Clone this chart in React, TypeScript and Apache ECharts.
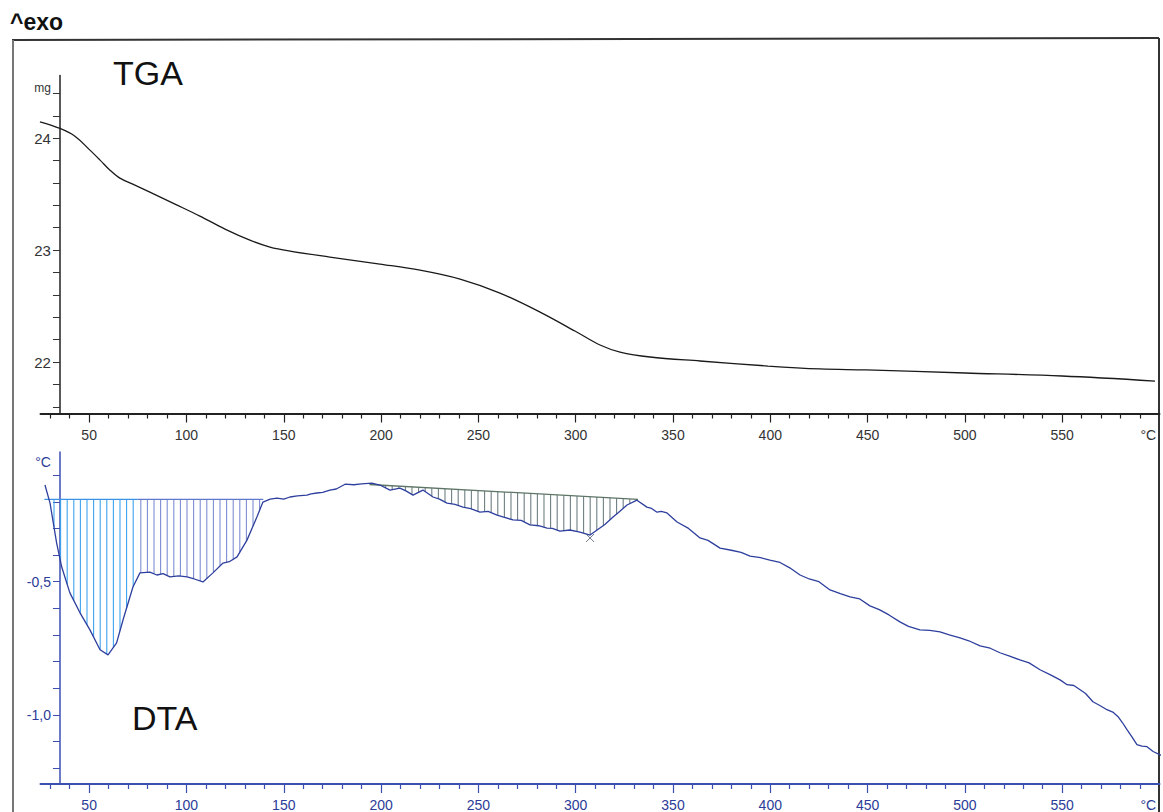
import React, { useEffect, useRef } from "react";
import * as echarts from "echarts";

// ---------- data ----------
const tgaTemp = [24.7, 35, 42.7, 50.4, 55.6, 60.7, 65.8, 73.5, 81.2, 94.1, 106.9, 119.8, 132.6, 142.9, 153.2, 173.7, 199.4, 220, 240.6, 261.1, 281.7, 299.6, 312.5, 322.8, 338.2, 363.9, 398.8, 425.5, 449.2, 500.1, 549.9, 597.7];
const tgaMass = [24.146, 24.087, 24.018, 23.893, 23.804, 23.714, 23.643, 23.58, 23.518, 23.411, 23.304, 23.188, 23.089, 23.027, 22.991, 22.938, 22.875, 22.821, 22.741, 22.616, 22.446, 22.277, 22.152, 22.089, 22.045, 22.009, 21.964, 21.938, 21.929, 21.902, 21.875, 21.83];

const dtaTemp = [27.3, 29.9, 33.3, 35.9, 40.1, 45.3, 50.4, 55.6, 59.7, 64.1, 67.4, 72.5, 76.1, 81.2, 84.8, 88, 91.5, 96, 100.3, 104, 108.5, 113.6, 118.8, 122, 126, 131.1, 136.2, 139.3, 143, 146.5, 150, 153.2, 157, 161.9, 164, 167.1, 170, 173.7, 177, 181.5, 186, 190, 195.3, 199.4, 204.6, 209.7, 213, 216.4, 221.5, 226.7, 230, 233.9, 238, 242.1, 246, 250.8, 255, 259.6, 263, 267.8, 272, 276.5, 281, 285.3, 288, 291.9, 297, 302.2, 307.4, 311, 315, 319.2, 322, 326.4, 331.5, 336.6, 339, 341.8, 344, 346.9, 352.1, 358, 363.9, 368, 374.2, 380, 385, 389.6, 395, 399.8, 405, 410, 415.3, 420, 425, 430.7, 436, 441, 446, 451.2, 456, 461, 466.6, 471, 476.9, 482, 487.2, 492, 497.5, 502, 507.8, 513, 518, 523, 528.3, 533, 538.6, 544, 548.9, 552.5, 556, 559.2, 562, 565.8, 570, 573, 576, 578.7, 581, 583.3, 586, 588.4, 591, 593.6, 596.7, 601];
const dtaVal = [-0.137, -0.205, -0.355, -0.445, -0.542, -0.617, -0.681, -0.756, -0.775, -0.73, -0.644, -0.52, -0.467, -0.464, -0.475, -0.47, -0.482, -0.478, -0.482, -0.49, -0.501, -0.467, -0.43, -0.425, -0.407, -0.344, -0.257, -0.201, -0.19, -0.186, -0.19, -0.182, -0.178, -0.175, -0.17, -0.167, -0.165, -0.156, -0.152, -0.134, -0.136, -0.133, -0.13, -0.137, -0.156, -0.149, -0.16, -0.175, -0.156, -0.182, -0.19, -0.205, -0.21, -0.22, -0.226, -0.239, -0.236, -0.25, -0.258, -0.268, -0.27, -0.287, -0.29, -0.299, -0.3, -0.31, -0.306, -0.314, -0.325, -0.306, -0.285, -0.257, -0.24, -0.212, -0.194, -0.22, -0.225, -0.239, -0.236, -0.242, -0.276, -0.3, -0.336, -0.345, -0.374, -0.382, -0.39, -0.404, -0.41, -0.419, -0.428, -0.448, -0.475, -0.49, -0.5, -0.531, -0.545, -0.557, -0.565, -0.591, -0.605, -0.625, -0.651, -0.668, -0.681, -0.683, -0.689, -0.7, -0.711, -0.722, -0.741, -0.75, -0.767, -0.78, -0.794, -0.805, -0.831, -0.85, -0.869, -0.887, -0.89, -0.906, -0.92, -0.951, -0.968, -0.981, -0.99, -1.007, -1.03, -1.056, -1.085, -1.112, -1.118, -1.12, -1.138, -1.153];

// integrated peak regions: start °C, end °C, baseline at start, baseline at end
const peakStart = [27, 75, 194];
const peakEnd = [75, 139.5, 332];
const peakBaseStart = [-0.191, -0.191, -0.135];
const peakBaseEnd = [-0.191, -0.191, -0.191];

const markerTemp = [307.4];
const markerVal = [-0.336];

// axis ticks / labels
const xMajorTicks = [50, 100, 150, 200, 250, 300, 350, 400, 450, 500, 550];
const xMinorTicks = [30, 40, 60, 70, 80, 90, 110, 120, 130, 140, 160, 170, 180, 190, 210, 220, 230, 240, 260, 270, 280, 290, 310, 320, 330, 340, 360, 370, 380, 390, 410, 420, 430, 440, 460, 470, 480, 490, 510, 520, 530, 540, 560, 570, 580, 590];
const tgaYTicks = [21.6, 21.8, 22, 22.2, 22.4, 22.6, 22.8, 23, 23.2, 23.4, 23.6, 23.8, 24, 24.2, 24.4];
const tgaYLabels = [22, 23, 24, 24.4];
const dtaYTicks = [-1.2, -1.1, -1.0, -0.9, -0.8, -0.7, -0.6, -0.5, -0.4, -0.3, -0.2, -0.1];
const dtaYLabels = [-1.0, -0.5, -0.05];

// ---------- layout ----------
const X_MIN = 25;
const X_MAX = 600;
const Y_AXIS_AT = 35;
const GRID_LEFT = 40.5;
const GRID_WIDTH = 1119;
const PX_PER_C = GRID_WIDTH / (X_MAX - X_MIN);
const Y_OFFSET = -(Y_AXIS_AT - X_MIN) * PX_PER_C;

const FONT = "Liberation Sans, Arial, sans-serif";
const BLACK = "#1a1a1a";
const BLUE_AXIS = "#3c4fb0";
const BLUE_TEXT = "#2c3c98";
const BLUE_LINE = "#2e3f9e";

function xAxes(gridIndex: number, color: string, textColor: string) {
  return [
    {
      type: "value",
      gridIndex,
      position: "bottom",
      min: X_MIN,
      max: X_MAX,
      axisLine: { show: true, onZero: false, lineStyle: { color, width: 2 } },
      axisTick: { show: true, length: 9, customValues: xMajorTicks, lineStyle: { color, width: 1.2 } },
      axisLabel: { show: true, customValues: xMajorTicks, color: textColor, fontSize: 14, margin: 14, fontFamily: FONT },
      splitLine: { show: false },
      name: "°C",
      nameLocation: "end",
      nameGap: -19,
      nameTextStyle: { color: textColor, fontSize: 14, fontFamily: FONT, verticalAlign: "top", padding: [14, 0, 0, 0] },
    },
    {
      type: "value",
      gridIndex,
      position: "bottom",
      min: X_MIN,
      max: X_MAX,
      axisLine: { show: false, onZero: false },
      axisTick: { show: true, length: 5, customValues: xMinorTicks, lineStyle: { color, width: 1.2 } },
      axisLabel: { show: false },
      splitLine: { show: false },
    },
  ];
}

export default function App() {
  const ref = useRef<HTMLDivElement>(null);

  useEffect(() => {
    if (!ref.current) return;
    const chart = echarts.init(ref.current, null, { renderer: "svg" });

    const hatchColors = ["#3ea3ef", "#7d8dd2", "#6e7f84"];
    const baseColors = ["#3a93e6", "#5f78cc", "#5d7566"];

    const option: any = {
      animation: false,
      backgroundColor: "#ffffff",
      grid: [
        { left: GRID_LEFT, width: GRID_WIDTH, top: 75.5, height: 338 },
        { left: GRID_LEFT, width: GRID_WIDTH, top: 452, height: 332 },
      ],
      xAxis: [...xAxes(0, "#222222", "#333333"), ...xAxes(1, BLUE_AXIS, BLUE_TEXT)],
      yAxis: [
        {
          type: "value",
          gridIndex: 0,
          min: 21.54,
          max: 24.56,
          offset: Y_OFFSET,
          axisLine: { show: true, onZero: false, lineStyle: { color: "#222222", width: 1.5 } },
          axisTick: { show: true, length: 7, customValues: tgaYTicks, lineStyle: { color: "#333333" } },
          axisLabel: {
            show: true,
            customValues: tgaYLabels,
            color: "#333333",
            fontSize: 15,
            fontFamily: FONT,
            margin: 9,
            formatter: (v: number) => (Math.abs(v - 24.4) < 1e-6 ? "{u|mg}" : String(v)),
            rich: { u: { fontSize: 12, color: "#333333", fontFamily: FONT, padding: [0, 0, 10, 0] } },
          },
          splitLine: { show: false },
        },
        {
          type: "value",
          gridIndex: 1,
          min: -1.26,
          max: -0.013,
          offset: Y_OFFSET,
          axisLine: { show: true, onZero: false, lineStyle: { color: BLUE_AXIS, width: 1.5 } },
          axisTick: { show: true, length: 7, customValues: dtaYTicks, lineStyle: { color: BLUE_AXIS } },
          axisLabel: {
            show: true,
            customValues: dtaYLabels,
            color: BLUE_TEXT,
            fontSize: 14,
            fontFamily: FONT,
            margin: 9,
            formatter: (v: number) =>
              Math.abs(v + 0.05) < 1e-6 ? "{u|°C}" : v.toFixed(1).replace(".", ","),
            rich: { u: { fontSize: 14, color: BLUE_TEXT, fontFamily: FONT } },
          },
          splitLine: { show: false },
        },
      ],
      graphic: [
        { type: "line", shape: { x1: 12, y1: 40, x2: 1159, y2: 38 }, style: { stroke: "#333333", lineWidth: 2 } },
        { type: "line", shape: { x1: 13, y1: 40, x2: 13, y2: 812 }, style: { stroke: "#777777", lineWidth: 2 } },
        { type: "line", shape: { x1: 1159, y1: 38, x2: 1159, y2: 812 }, style: { stroke: "#333333", lineWidth: 2 } },
        { type: "text", left: 10, top: 10, style: { text: "^exo", font: "bold 23px " + FONT, fill: "#111111" } },
        { type: "text", left: 113, top: 56, style: { text: "TGA", font: "34px " + FONT, fill: "#111111" } },
        { type: "text", left: 132, top: 701, style: { text: "DTA", font: "34px " + FONT, fill: "#111111" } },
      ],
      series: [
        {
          type: "line",
          xAxisIndex: 0,
          yAxisIndex: 0,
          data: tgaTemp.map((t, i) => [t, tgaMass[i]]),
          showSymbol: false,
          symbol: "none",
          smooth: 0.35,
          lineStyle: { color: BLACK, width: 1.3 },
          z: 3,
        },
        {
          type: "custom",
          xAxisIndex: 2,
          yAxisIndex: 1,
          data: peakStart.map((s, i) => [s, peakEnd[i], peakBaseStart[i], peakBaseEnd[i]]),
          encode: { x: [0, 1], y: [2, 3] },
          z: 2,
          renderItem: (params: any, api: any) => {
            const idx = params.dataIndex;
            const t0 = api.value(0);
            const t1 = api.value(1);
            const b0 = api.value(2);
            const b1 = api.value(3);
            const p0 = api.coord([t0, b0]);
            const p1 = api.coord([t1, b1]);
            const pts = dtaTemp.map((t, k) => api.coord([t, dtaVal[k]]));
            const children: any[] = [];
            const step = 6.6;
            for (let x = p0[0] + 3; x < p1[0] - 0.5; x += step) {
              const by = p0[1] + ((p1[1] - p0[1]) * (x - p0[0])) / (p1[0] - p0[0]);
              let cy: number | null = null;
              for (let k = 0; k < pts.length - 1; k++) {
                if (pts[k][0] <= x && pts[k + 1][0] >= x) {
                  cy = pts[k][1] + ((pts[k + 1][1] - pts[k][1]) * (x - pts[k][0])) / (pts[k + 1][0] - pts[k][0]);
                  break;
                }
              }
              if (cy !== null && cy > by + 1) {
                children.push({
                  type: "line",
                  shape: { x1: x, y1: by, x2: x, y2: cy },
                  style: { stroke: hatchColors[idx], lineWidth: 1.1 },
                });
              }
            }
            children.push({
              type: "line",
              shape: { x1: p0[0], y1: p0[1], x2: p1[0], y2: p1[1] },
              style: { stroke: baseColors[idx], lineWidth: 1.3 },
            });
            return { type: "group", children };
          },
        },
        {
          type: "line",
          xAxisIndex: 2,
          yAxisIndex: 1,
          data: dtaTemp.map((t, i) => [t, dtaVal[i]]),
          showSymbol: false,
          symbol: "none",
          lineStyle: { color: BLUE_LINE, width: 1.3 },
          z: 3,
        },
        {
          type: "scatter",
          xAxisIndex: 2,
          yAxisIndex: 1,
          data: markerTemp.map((t, i) => [t, markerVal[i]]),
          symbol: "path://M0,0L10,10M10,0L0,10",
          symbolSize: 8,
          itemStyle: { color: "none", borderColor: "#4a5a70", borderWidth: 1 },
          z: 4,
        },
      ],
    };

    chart.setOption(option);
    return () => chart.dispose();
  }, []);

  return (
    <div
      ref={ref}
      style={{ position: "fixed", left: 0, top: 0, width: 1163, height: 812, background: "#fff" }}
    />
  );
}
